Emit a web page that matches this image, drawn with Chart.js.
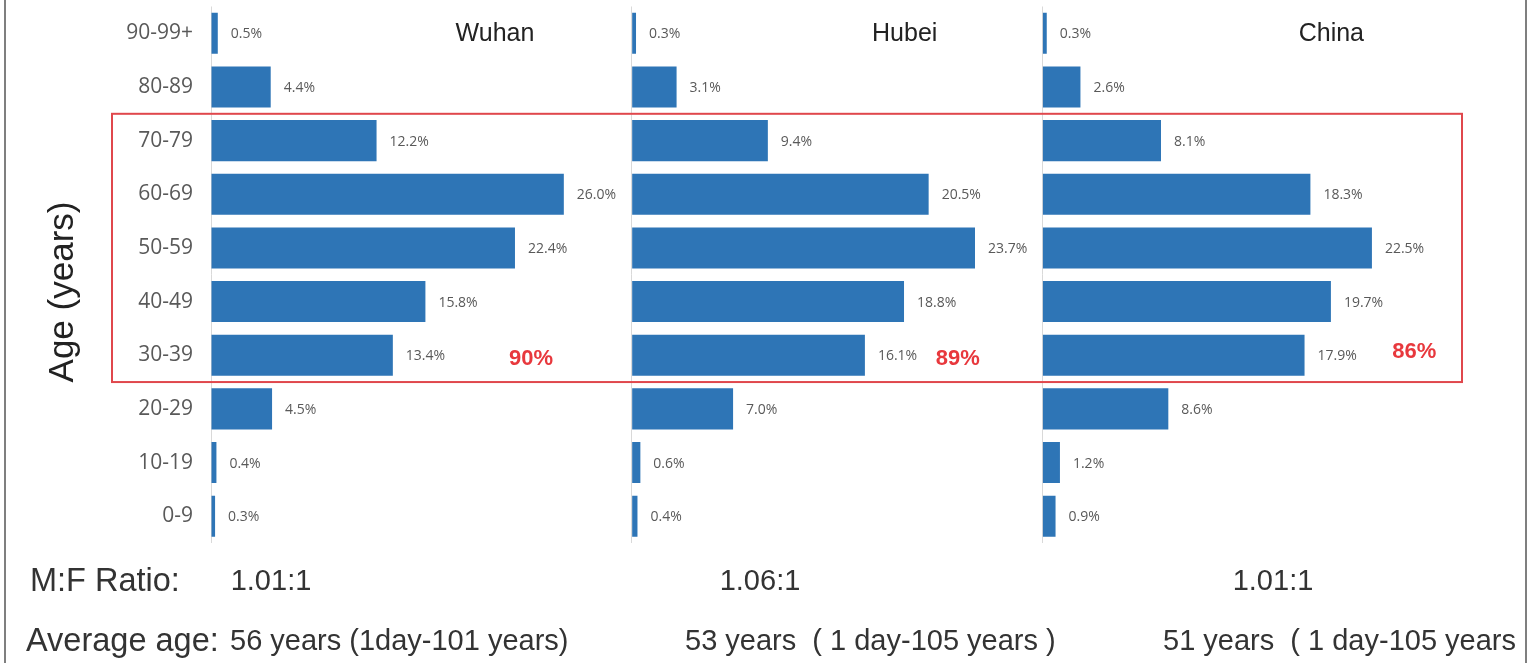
<!DOCTYPE html>
<html><head><meta charset="utf-8">
<script src="https://cdn.jsdelivr.net/npm/chart.js@4.4.0/dist/chart.umd.min.js"></script>
<style>html,body{margin:0;padding:0;background:#fff;overflow:hidden}#wrap{width:1529px;height:663px;position:relative}canvas{display:block}</style>
</head><body><div id="wrap"><canvas id="c" width="1529" height="663"></canvas></div>
<script>
// ---- data ----
const ageGroups = ['90-99+','80-89','70-79','60-69','50-59','40-49','30-39','20-29','10-19','0-9'];
const wuhan = [0.5,4.4,12.2,26.0,22.4,15.8,13.4,4.5,0.4,0.3];
const hubei = [0.3,3.1,9.4,20.5,23.7,18.8,16.1,7.0,0.6,0.4];
const china = [0.3,2.6,8.1,18.3,22.5,19.7,17.9,8.6,1.2,0.9];
const regions = ['Wuhan','Hubei','China'];
const share30to79 = ['90%','89%','86%'];
const mfRatio = ['1.01:1','1.06:1','1.01:1'];
const averageAge = ['56 years (1day-101 years)','53 years  ( 1 day-105 years )','51 years  ( 1 day-105 years )'];

// ---- layout / style ----
const panelMax = [31.0, 28.35, 32.2];
const panelWeight = [421, 411, 472];
const titleOffset = [284, 273, 289];
const shareOffset = [320, 326, 372];
const shareDy = [4, 4, -3];
const ratioX = [271, 760, 1273];
const ageX = [230, 685, 1163];
const BAR = '#2e75b6';
const GRAY = '#595959';
const series = [wuhan, hubei, china];

const annot = {
  id: 'annot',
  afterDatasetsDraw(chart) {
    const ctx = chart.ctx, y = chart.scales.y;
    ctx.save();
    // value labels
    ctx.font = '14px "Open Sans"'; ctx.fillStyle = GRAY; ctx.textBaseline = 'middle'; ctx.textAlign = 'left';
    chart.data.datasets.forEach((ds, i) => {
      chart.getDatasetMeta(i).data.forEach((el, j) => {
        ctx.fillText(ds.data[j].toFixed(1) + '%', el.x + 13, el.y + 1);
      });
    });
    // panel titles
    ctx.font = '25px "Liberation Sans", Arial'; ctx.fillStyle = '#222'; ctx.textAlign = 'center';
    regions.forEach((r, i) => {
      const s = chart.scales['x' + i];
      ctx.fillText(r, s.left + titleOffset[i], y.getPixelForValue(0) + 1);
    });
    // highlight box
    const top = (y.getPixelForValue(1) + y.getPixelForValue(2)) / 2;
    const bot = (y.getPixelForValue(6) + y.getPixelForValue(7)) / 2;
    ctx.strokeStyle = '#e0474c'; ctx.lineWidth = 2;
    ctx.strokeRect(112, top, 1462 - 112, bot - top);
    ctx.font = 'bold 22px "Liberation Sans", Arial'; ctx.fillStyle = '#e8383d';
    share30to79.forEach((t, i) => {
      const s = chart.scales['x' + i];
      ctx.fillText(t, s.left + shareOffset[i], y.getPixelForValue(6) + shareDy[i]);
    });
    // y title
    ctx.save();
    ctx.translate(63, 292); ctx.rotate(-Math.PI / 2);
    ctx.font = '35px "Liberation Sans", Arial'; ctx.fillStyle = '#222';
    ctx.fillText('Age (years)', 0, 0);
    ctx.restore();
    // bottom rows (clipped at the right frame line)
    ctx.save();
    ctx.beginPath(); ctx.rect(0, 0, 1523, 663); ctx.clip();
    ctx.font = '32.5px "Liberation Sans", Arial'; ctx.fillStyle = '#333'; ctx.textAlign = 'left';
    ctx.fillText('M:F Ratio:', 30, 582);
    ctx.fillText('Average age:', 26, 642);
    ctx.font = '29px "Liberation Sans", Arial';
    ctx.textAlign = 'center';
    mfRatio.forEach((t, i) => ctx.fillText(t, ratioX[i], 582));
    ctx.textAlign = 'left';
    averageAge.forEach((t, i) => ctx.fillText(t, ageX[i], 642));
    ctx.restore();
    // frame lines
    ctx.strokeStyle = '#7f7f7f'; ctx.lineWidth = 2;
    ctx.beginPath(); ctx.moveTo(5, 0); ctx.lineTo(5, 663); ctx.moveTo(1526, 0); ctx.lineTo(1526, 663); ctx.stroke();
    ctx.restore();
  }
};

const xScale = (i) => ({
  type: 'linear', position: 'bottom', stack: 'panels', stackWeight: panelWeight[i],
  min: 0, max: panelMax[i],
  ticks: { display: false },
  border: { display: false },
  grid: { drawTicks: false, lineWidth: 1, color: c => (c.tick && c.tick.value === 0) ? '#d9d9d9' : 'rgba(0,0,0,0)' },
  afterFit: s => { s.height = 0; }
});

new Chart(document.getElementById('c'), {
  type: 'bar',
  data: {
    labels: ageGroups,
    datasets: series.map((d, i) => ({
      label: regions[i], data: d, xAxisID: 'x' + i, yAxisID: 'y',
      backgroundColor: BAR, grouped: false, barPercentage: 0.765, categoryPercentage: 1
    }))
  },
  options: {
    indexAxis: 'y', responsive: false, animation: false, devicePixelRatio: 1,
    layout: { padding: { top: 6.5, bottom: 120, left: 0, right: 15 } },
    plugins: { legend: { display: false }, tooltip: { enabled: false } },
    scales: {
      x0: xScale(0), x1: xScale(1), x2: xScale(2),
      y: {
        type: 'category', position: 'left',
        grid: { display: false, drawTicks: false }, border: { display: false },
        ticks: { color: GRAY, font: { family: '"Open Sans"', size: 21 }, padding: 18 },
        afterFit: s => { s.width = 211; s.paddingTop = 0; s.paddingBottom = 0; }
      }
    }
  },
  plugins: [annot]
});
</script></body></html>
